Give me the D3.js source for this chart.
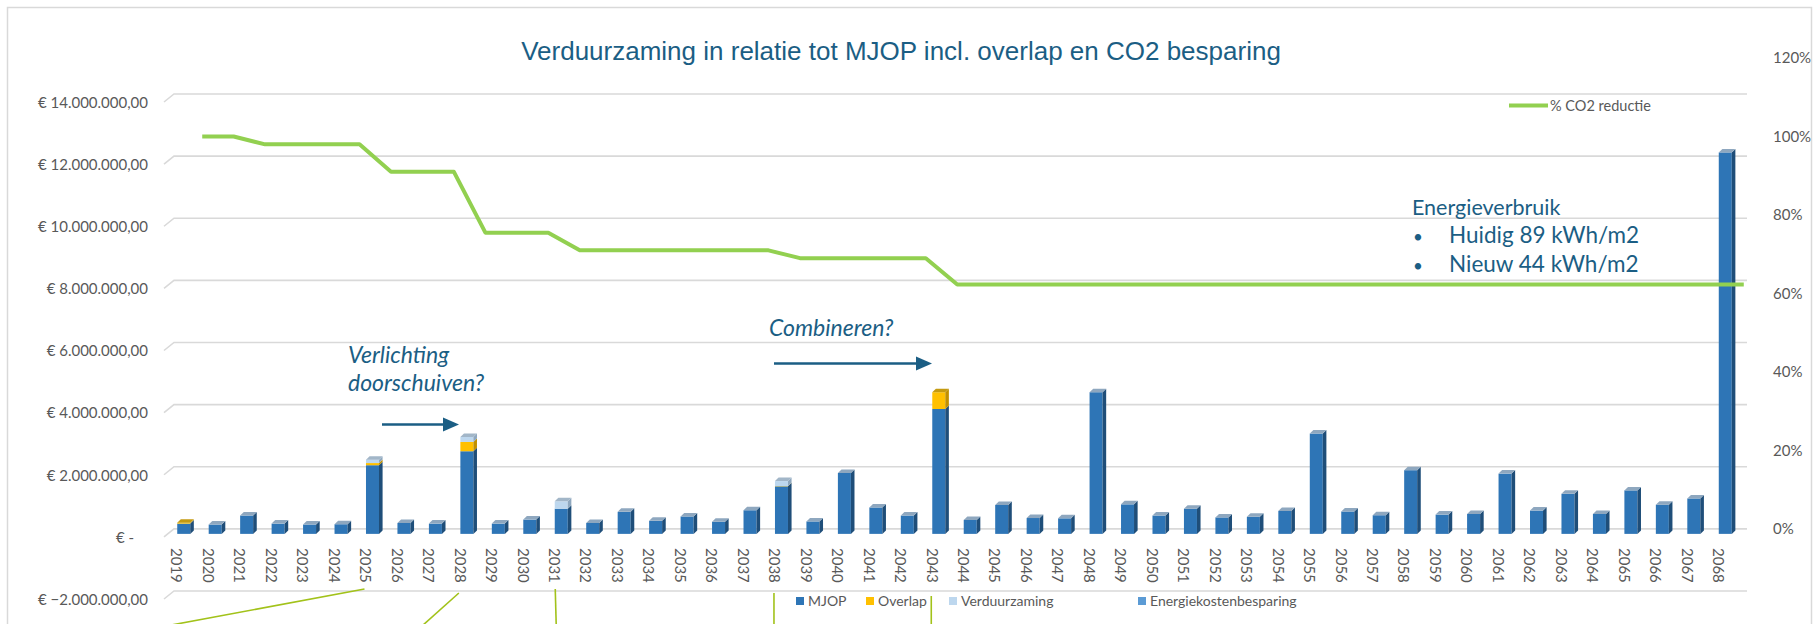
<!DOCTYPE html>
<html>
<head>
<meta charset="utf-8">
<script src="https://cdn.jsdelivr.net/npm/d3@7"></script>
<style>
  body { margin: 0; background: #fff; }
  svg { display: block; }
  text { font-family: Lato, "Open Sans", sans-serif; }
</style>
</head>
<body>
<div class="chart"></div>
<script>
// years on the x axis
const years = ["2019","2020","2021","2022","2023","2024","2025","2026","2027","2028",
  "2029","2030","2031","2032","2033","2034","2035","2036","2037","2038",
  "2039","2040","2041","2042","2043","2044","2045","2046","2047","2048",
  "2049","2050","2051","2052","2053","2054","2055","2056","2057","2058",
  "2059","2060","2061","2062","2063","2064","2065","2066","2067","2068"];

// costs in euro
const mjop = [330000,300000,590000,330000,300000,310000,2210000,350000,330000,2660000,
  330000,460000,810000,350000,710000,420000,560000,390000,760000,1530000,
  400000,1960000,850000,590000,4020000,450000,930000,510000,500000,4560000,
  950000,590000,810000,530000,550000,740000,3230000,720000,600000,2050000,
  620000,640000,1940000,750000,1290000,640000,1400000,940000,1140000,12280000];
const overlap = [30000,0,0,0,0,0,70000,0,0,300000,
  0,0,0,0,0,0,0,0,0,10000,
  0,0,0,0,540000,0,0,0,0,0,
  0,0,0,0,0,0,0,0,0,0,
  0,0,0,0,0,0,0,0,0,0];
const verduurzaming = [0,0,0,0,0,0,110000,0,0,160000,
  0,0,240000,0,0,0,0,0,0,160000,
  0,0,0,0,0,0,0,0,0,0,
  0,0,0,0,0,0,0,0,0,0,
  0,0,0,0,0,0,0,0,0,0];
const energiekostenbesparing = [0,0,0,0,0,0,0,0,0,0,
  0,0,0,0,0,0,0,0,0,0,
  0,0,0,0,0,0,0,0,0,0,
  0,0,0,0,0,0,0,0,0,0,
  0,0,0,0,0,0,0,0,0,0];

// % CO2 reductie (right axis)
const co2Reductie = [1.00,1.00,0.98,0.98,0.98,0.98,0.91,0.91,0.91,0.755,
  0.755,0.755,0.71,0.71,0.71,0.71,0.71,0.71,0.71,0.69,
  0.69,0.69,0.69,0.69,0.623,0.623,0.623,0.623,0.623,0.623,
  0.623,0.623,0.623,0.623,0.623,0.623,0.623,0.623,0.623,0.623,
  0.623,0.623,0.623,0.623,0.623,0.623,0.623,0.623,0.623,0.623];

const leftTicks = [-2000000,0,2000000,4000000,6000000,8000000,10000000,12000000,14000000];
const rightTicks = [0,0.2,0.4,0.6,0.8,1.0,1.2];

const seriesNames = ["MJOP","Overlap","Verduurzaming","Energiekostenbesparing"];

const width = 1814, height = 624;
const grey = "#595959", teal = "#1B5E84", green = "#92D050";
const colors = {
  MJOP: {front: "#2E75B6", side: "#1F4E79", top: "#8EA7BF"},
  Overlap: {front: "#FFC000", side: "#C09000", top: "#C49A10"},
  Verduurzaming: {front: "#BDD7EE", side: "#8FA8BF", top: "#A2B6C8"},
  Energiekostenbesparing: {front: "#5B9BD5", side: "#3F6F9A", top: "#9DB5CB"}
};

const svg = d3.select(".chart").append("svg")
  .attr("width", width).attr("height", height);

// chart border
svg.append("rect")
  .attr("x", 7.5).attr("y", 7.5)
  .attr("width", 1804).attr("height", 660)
  .attr("fill", "none").attr("stroke", "#d9d9d9").attr("stroke-width", 1.5);

// scales (back wall of the 3d chart)
const x = d3.scaleBand().domain(years).range([174, 1747]);
const y = d3.scaleLinear().domain([-2000000, 14000000]).range([591, 94]);
const yRight = d3.scaleLinear().domain([0, 1.2]).range([529, 58]);
const mid = d => x(d) + x.bandwidth() / 2;

// title
svg.append("text")
  .attr("x", 901).attr("y", 60)
  .attr("text-anchor", "middle")
  .style("font-family", "'Liberation Sans', Arial, sans-serif")
  .style("font-size", "26px")
  .attr("fill", teal)
  .text("Verduurzaming in relatie tot MJOP incl. overlap en CO2 besparing");

// gridlines with the little 3d floor stub on the left
const grid = svg.append("g");
leftTicks.forEach(t => {
  grid.append("path")
    .attr("d", `M164,${y(t) + 8}L174,${y(t)}L1747,${y(t)}`)
    .attr("fill", "none").attr("stroke", "#d9d9d9").attr("stroke-width", 1.6);
});

// left axis labels
const fmt = v => v === 0 ? "€ -" :
  "€ " + d3.format(",.2f")(v).replace(/,/g, "#").replace(".", ",").replace(/#/g, ".");
svg.append("g").selectAll("text")
  .data(leftTicks).enter().append("text")
  .attr("x", d => d === 0 ? 116 : 148)
  .attr("y", d => y(d) + 8.5)
  .attr("dy", "0.35em")
  .attr("text-anchor", d => d === 0 ? "start" : "end")
  .style("font-size", "15px")
  .attr("fill", grey)
  .text(fmt);

// right axis labels
svg.append("g").selectAll("text")
  .data(rightTicks).enter().append("text")
  .attr("x", 1773)
  .attr("y", d => yRight(d))
  .attr("dy", "0.35em")
  .style("font-size", "15px")
  .attr("fill", grey)
  .text(d => d3.format(".0%")(d));

// year labels (rotated)
svg.append("g").selectAll("text")
  .data(years).enter().append("text")
  .attr("transform", d => `translate(${mid(d) - 13},548) rotate(90)`)
  .attr("dy", "0.35em")
  .style("font-size", "15px")
  .attr("fill", grey)
  .text(d => d);

// stacked 3d columns
const table = years.map((yr, i) => ({
  year: yr, MJOP: mjop[i], Overlap: overlap[i],
  Verduurzaming: verduurzaming[i], Energiekostenbesparing: energiekostenbesparing[i]
}));
const stacked = d3.stack().keys(seriesNames)(table);

const faceW = 13, dx = 3.6, dy = 3.5, offX = -6.5, offY = 5;
const bars = svg.append("g");
table.forEach((row, i) => {
  const left = mid(row.year) + offX - faceW / 2 + 0.5;
  let topKey = null, topVal = 0;
  stacked.forEach(s => {
    const v0 = s[i][0], v1 = s[i][1];
    if (v1 - v0 <= 0) return;
    const c = colors[s.key];
    const yTop = y(v1) + offY, yBot = y(v0) + offY;
    bars.append("rect")
      .attr("x", left).attr("y", yTop)
      .attr("width", faceW).attr("height", yBot - yTop)
      .attr("fill", c.front);
    bars.append("path")
      .attr("d", `M${left + faceW},${yTop}L${left + faceW + dx},${yTop - dy}L${left + faceW + dx},${yBot - dy}L${left + faceW},${yBot}Z`)
      .attr("fill", c.side);
    topKey = s.key; topVal = v1;
  });
  if (topKey) {
    const yt = y(topVal) + offY;
    bars.append("path")
      .attr("d", `M${left},${yt}L${left + faceW},${yt}L${left + faceW + dx},${yt - dy}L${left + dx},${yt - dy}Z`)
      .attr("fill", colors[topKey].top);
  }
});

// CO2 line
const line = d3.line()
  .x((d, i) => mid(years[i]) + 12.5)
  .y(d => yRight(d));
svg.append("path")
  .datum(co2Reductie)
  .attr("d", line)
  .attr("fill", "none")
  .attr("stroke", green)
  .attr("stroke-width", 4)
  .attr("stroke-linejoin", "round");

// line legend
svg.append("line")
  .attr("x1", 1509).attr("x2", 1548).attr("y1", 105.5).attr("y2", 105.5)
  .attr("stroke", green).attr("stroke-width", 4);
svg.append("text")
  .attr("x", 1550).attr("y", 105.5).attr("dy", "0.35em")
  .style("font-size", "14.5px").attr("fill", grey)
  .text("% CO2 reductie");

// bar legend
const legendX = [796, 866, 949, 1138];
const legend = svg.append("g").selectAll("g")
  .data(seriesNames).enter().append("g")
  .attr("transform", (d, i) => `translate(${legendX[i]},601)`);
legend.append("rect")
  .attr("x", 0).attr("y", -4).attr("width", 8).attr("height", 8)
  .attr("fill", d => colors[d].front);
legend.append("text")
  .attr("x", 12).attr("dy", "0.35em")
  .style("font-size", "14px").attr("fill", grey)
  .text(d => d);

// annotations
const note = svg.append("g").attr("fill", teal);
note.append("text").attr("x", 348).attr("y", 363)
  .style("font-size", "23px").style("font-style", "italic").text("Verlichting");
note.append("text").attr("x", 348).attr("y", 391)
  .style("font-size", "23px").style("font-style", "italic").text("doorschuiven?");
note.append("text").attr("x", 769).attr("y", 336)
  .style("font-size", "23px").style("font-style", "italic").text("Combineren?");

function arrow(x1, x2, yy) {
  svg.append("line")
    .attr("x1", x1).attr("x2", x2 - 12).attr("y1", yy).attr("y2", yy)
    .attr("stroke", teal).attr("stroke-width", 2.5);
  svg.append("path")
    .attr("d", `M${x2 - 16},${yy - 7}L${x2},${yy}L${x2 - 16},${yy + 7}Z`)
    .attr("fill", teal);
}
arrow(382, 459, 424.5);
arrow(774, 932, 363.5);

note.append("text").attr("x", 1412).attr("y", 215)
  .style("font-size", "21.5px").text("Energieverbruik");
note.append("text").attr("x", 1413).attr("y", 243)
  .style("font-size", "17px").text("•");
note.append("text").attr("x", 1449).attr("y", 243)
  .style("font-size", "22.5px").text("Huidig 89 kWh/m2");
note.append("text").attr("x", 1413).attr("y", 272)
  .style("font-size", "17px").text("•");
note.append("text").attr("x", 1449).attr("y", 272)
  .style("font-size", "22.5px").text("Nieuw 44 kWh/m2");

// leader lines running off the bottom of the picture
const lead = svg.append("g").attr("stroke", "#A2C21A").attr("stroke-width", 1.6).attr("fill", "none");
const lx = yr => mid(yr) - 10;
lead.append("line").attr("x1", lx("2025") - 4).attr("y1", 589).attr("x2", 166).attr("y2", 626);
lead.append("line").attr("x1", lx("2028") - 4).attr("y1", 593).attr("x2", 422).attr("y2", 626);
lead.append("line").attr("x1", lx("2031") - 2).attr("y1", 589).attr("x2", lx("2031") - 1).attr("y2", 626);
lead.append("line").attr("x1", lx("2038") - 3.5).attr("y1", 593).attr("x2", lx("2038") - 3.5).attr("y2", 626);
lead.append("line").attr("x1", lx("2043") - 3.5).attr("y1", 596).attr("x2", lx("2043") - 3.5).attr("y2", 626);
</script>
</body>
</html>
